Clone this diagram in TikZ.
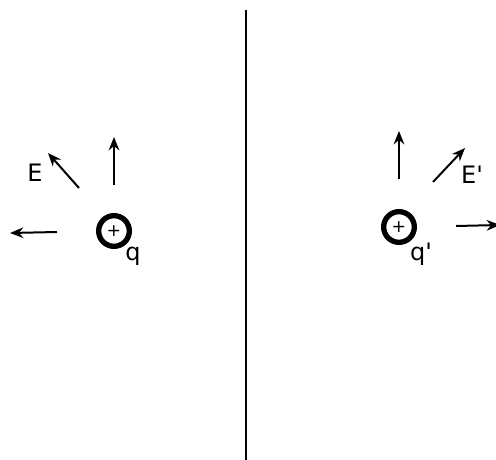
\documentclass[tikz,border=0pt]{standalone}
\usepackage{fontspec}
\setmainfont{DejaVu Sans}
\usetikzlibrary{arrows.meta}
\begin{document}
\begin{tikzpicture}[x=0.75pt,y=-0.75pt,
  field/.style={line width=1.5pt,-{Stealth[length=10pt,width=8pt]}},
  charge/.style={circle,draw,line width=4pt,minimum size=23pt,inner sep=0pt,font=\fontsize{13}{13}\selectfont},
  lbl/.style={font=\fontsize{18}{18}\selectfont,inner sep=0pt}]
\useasboundingbox (0,0) rectangle (496,460);
\draw[line width=1.5pt] (246,10) coordinate (top) -- (246,460) coordinate (bot);
% left charge
\node[charge] (q) at (114,231) {+};
\node[lbl] (ql) at (133,256) {q};
\coordinate (l1s) at (57,232); \coordinate (l1e) at (10,233);
\coordinate (l2s) at (114,185); \coordinate (l2e) at (114,137);
\coordinate (l3s) at (79,188); \coordinate (l3e) at (48,153);
\draw[field] (l1s) -- (l1e);
\draw[field] (l2s) -- (l2e);
\draw[field] (l3s) -- (l3e);
\node[lbl] (E) at (35,173) {E};
% right charge
\node[charge] (qp) at (399,227) {+};
\node[lbl] (qpl) at (421,254) {q\textquotesingle};
\coordinate (r1s) at (456,226); \coordinate (r1e) at (500,225);
\coordinate (r2s) at (399,179); \coordinate (r2e) at (399,131);
\coordinate (r3s) at (433,182); \coordinate (r3e) at (465,148);
\draw[field] (r1s) -- (r1e);
\draw[field] (r2s) -- (r2e);
\draw[field] (r3s) -- (r3e);
\node[lbl] (Ep) at (472,175) {E\textquotesingle};
\end{tikzpicture}
\end{document}
